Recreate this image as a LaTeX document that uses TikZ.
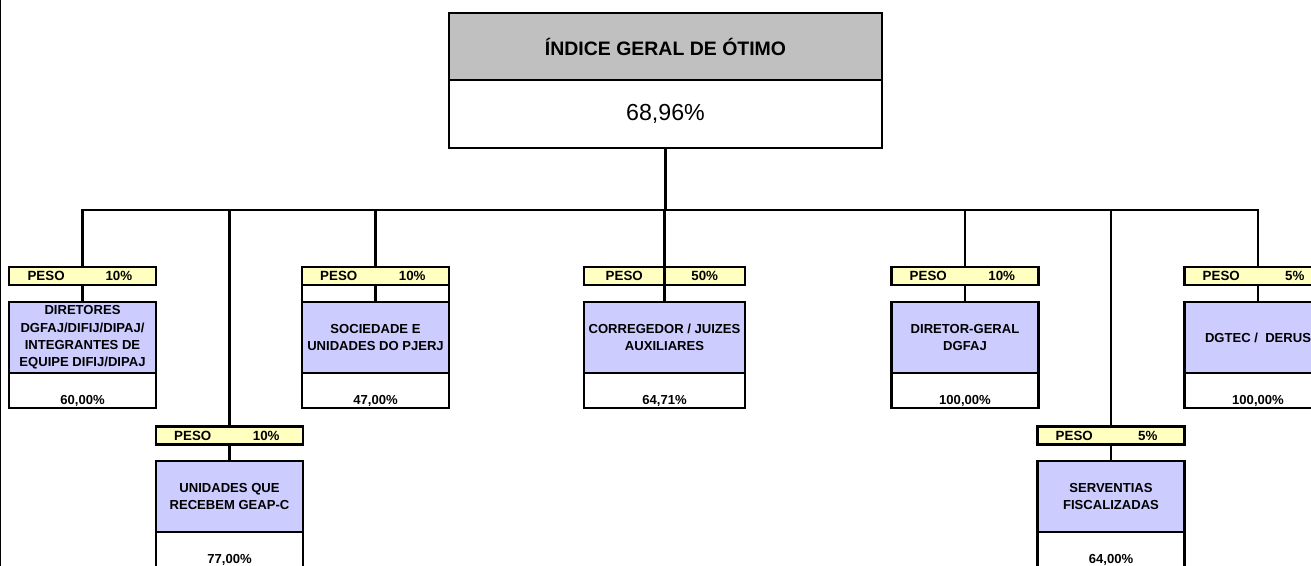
\documentclass[tikz,border=0pt]{standalone}
\usepackage{fontspec}
\setmainfont{Liberation Sans}
\definecolor{myheadcolor}{HTML}{C0C0C0}
\definecolor{mypesocolor}{HTML}{FFFFC0}
\definecolor{myunitcolor}{HTML}{CCCCFF}
\tikzset{
  wire/.style={line width=1.6pt},
  headbox/.style={draw, fill=myheadcolor, rectangle, line width=1.7pt, minimum width=324.75pt, minimum height=50.25pt, inner sep=0pt, font=\fontsize{14.6pt}{17pt}\selectfont\bfseries},
  indexbox/.style={draw, fill=white, rectangle, line width=1.7pt, minimum width=324.75pt, minimum height=51pt, inner sep=0pt, font=\fontsize{17.4pt}{20pt}\selectfont},
  pesobox/.style={draw, fill=mypesocolor, rectangle, line width=1.6pt, minimum width=110.25pt, minimum height=13.5pt, inner sep=0pt},
  gapbox/.style={draw, fill=white, rectangle, line width=1.6pt, minimum width=110.25pt, minimum height=12.75pt, inner sep=0pt},
  unitbox/.style={draw, fill=myunitcolor, rectangle, line width=1.6pt, minimum width=110.25pt, minimum height=53.25pt, inner sep=0pt, align=center, font=\fontsize{9.8pt}{13.1pt}\selectfont\bfseries},
  valbox/.style={draw, fill=white, rectangle, line width=1.6pt, minimum width=110.25pt, minimum height=26.25pt, inner sep=0pt, text height=23.95pt, text depth=2.3pt, font=\fontsize{9.8pt}{13pt}\selectfont\bfseries},
  pesotext/.style={inner sep=0pt, font=\fontsize{10pt}{11pt}\selectfont\bfseries},
  wide/.style={minimum width=120.75pt}
}

\begin{document}
\begin{tikzpicture}[x=0.75pt, y=-0.75pt]%
\useasboundingbox (0,0) rectangle (1311,566);%
\draw[line width=1.5pt] (0,0) -- (0,566);%
% top index
\node[headbox] (tophead) at (665.5,46.5) {ÍNDICE GERAL DE ÓTIMO};%
\node[indexbox] (topval) at (665.5,114) {68,96\%};%
\coordinate (bus) at (665,210);%
% first row
\node[pesobox] (peso1) at (82.5,276) {};%
\node[pesotext] at (46.1,276) {PESO};%
\node[pesotext] at (118.9,276) {10\%};%
\node[unitbox] (unit1) at (82.5,337.5) {DIRETORES\\DGFAJ/DIFIJ/DIPAJ/\\INTEGRANTES DE\\EQUIPE DIFIJ/DIPAJ};%
\node[valbox] (val1) at (82.5,390.5) {60,00\%};%
\node[pesobox] (peso2) at (375.5,276) {};%
\node[pesotext] at (338.75,276) {PESO};%
\node[pesotext] at (412.25,276) {10\%};%
\node[gapbox] (gap2) at (375.5,293.5) {};%
\node[unitbox] (unit2) at (375.5,337.5) {SOCIEDADE E\\UNIDADES DO PJERJ};%
\node[valbox] (val2) at (375.5,390.5) {47,00\%};%
\node[pesobox, wide] (peso3) at (664.5,276) {};%
\node[pesotext] at (624.25,276) {PESO};%
\node[pesotext] at (704.75,276) {50\%};%
\node[unitbox, wide] (unit3) at (664.5,337.5) {CORREGEDOR / JUIZES\\AUXILIARES};%
\node[valbox, wide] (val3) at (664.5,390.5) {64,71\%};%
\node[pesobox] (peso5) at (965,276) {};%
\node[pesotext] at (928.25,276) {PESO};%
\node[pesotext] at (1001.75,276) {10\%};%
\node[unitbox] (unit5) at (965,337.5) {DIRETOR-GERAL\\DGFAJ};%
\node[valbox] (val5) at (965,390.5) {100,00\%};%
\node[pesobox] (peso6) at (1258,276) {};%
\node[pesotext] at (1221.25,276) {PESO};%
\node[pesotext] at (1294.75,276) {5\%};%
\node[unitbox] (unit6) at (1258,337.5) {DGTEC /\ \ DERUS};%
\node[valbox] (val6) at (1258,390.5) {100,00\%};%
% second row
\node[pesobox] (peso4) at (229.5,435.5) {};%
\node[pesotext] at (192.75,435.5) {PESO};%
\node[pesotext] at (266.25,435.5) {10\%};%
\node[unitbox] (unit4) at (229.5,496.5) {UNIDADES QUE\\RECEBEM GEAP-C};%
\node[valbox] (val4) at (229.5,549.5) {77,00\%};%
\node[pesobox] (peso7) at (1111,435.5) {};%
\node[pesotext] at (1074.25,435.5) {PESO};%
\node[pesotext] at (1147.75,435.5) {5\%};%
\node[unitbox] (unit7) at (1111,496.5) {SERVENTIAS\\FISCALIZADAS};%
\node[valbox] (val7) at (1111,549.5) {64,00\%};%
% connectors
\draw[wire] (topval.south) -- (topval.south |- bus);%
\draw[wire] (peso1.north) -- (peso1.north |- bus) -- (peso6.north |- bus) -- (peso6.north);%
\draw[wire] (peso2.north |- bus) -- (peso2.north);%
\draw[wire] (peso3.north |- bus) -- (unit3.north);%
\draw[wire] (peso4.north |- bus) -- (peso4.north);%
\draw[wire] (peso5.north |- bus) -- (peso5.north);%
\draw[wire] (peso7.north |- bus) -- (peso7.north);%
\draw[wire] (peso1.south) -- (unit1.north);%
\draw[wire] (peso2.south) -- (unit2.north);%
\draw[wire] (peso4.south) -- (unit4.north);%
\draw[wire] (peso5.south) -- (unit5.north);%
\draw[wire] (peso6.south) -- (unit6.north);%
\draw[wire] (peso7.south) -- (unit7.north);%
\end{tikzpicture}
\end{document}
